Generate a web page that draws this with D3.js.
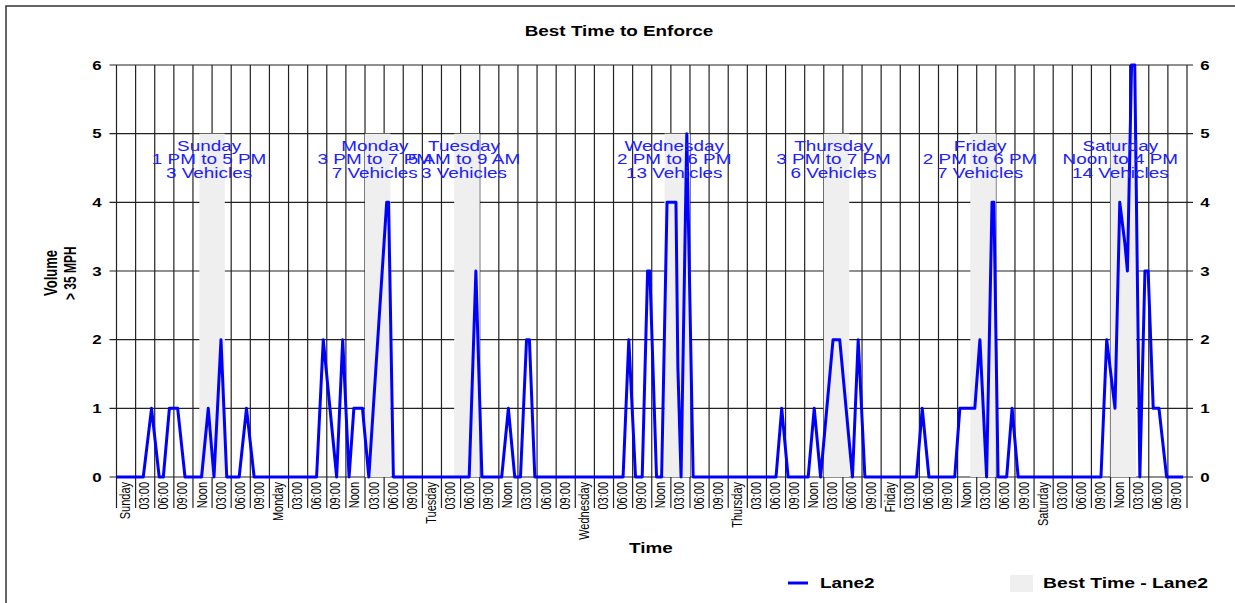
<!DOCTYPE html>
<html>
<head>
<meta charset="utf-8">
<script src="https://cdn.jsdelivr.net/npm/d3@7"></script>
<style>
  body { margin: 0; background: #fff; }
  text { font-family: "Liberation Sans", Arial, sans-serif; }
</style>
</head>
<body>
<svg id="vis" width="1235" height="603"></svg>
<script>
// data
const days = ["Sunday", "Monday", "Tuesday", "Wednesday", "Thursday", "Friday", "Saturday"]
const hourLabels = ["03:00", "06:00", "09:00", "Noon", "03:00", "06:00", "09:00"]
const yTicks = [0, 1, 2, 3, 4, 5, 6]

// Lane2 line: hours since Sunday 00:00 and volume
const lineHours = [0,
  4.2, 5.5, 6.7, 7.35, 8.3, 9.6, 10.75, 13.35, 14.4, 15.3, 16.4, 17.3, 19.25, 20.4, 21.6,
  31.4, 32.45, 34.55, 35.5, 36.5, 37.25, 38.6, 39.6, 42.4, 42.7, 43.45,
  55.35, 56.4, 57.35, 60.45, 61.5, 62.5, 63.4, 64.35, 64.8, 65.65,
  79.5, 80.4, 81.45, 82.5, 83.35, 83.7, 84.75, 85.55, 86.4, 87.8, 88.1, 88.6, 89.5, 90.5,
  103.5, 104.4, 105.4, 108.55, 109.5, 110.5, 112.45, 113.5, 115.5, 116.4, 117.45,
  125.55, 126.45, 127.5, 131.55, 132.35, 134.7, 135.5, 136.55, 137.4, 137.7, 138.35, 139.7, 140.55, 141.5,
  154.5, 155.4, 156.7, 157.45, 158.25, 158.65, 159.3, 159.8, 160.6, 161.4, 161.9, 162.7, 163.6, 164.8,
  167.4]
const lineValues = [0,
  0, 1, 0, 0, 1, 1, 0, 0, 1, 0, 2, 0, 0, 1, 0,
  0, 2, 0, 2, 0, 1, 1, 0, 4, 4, 0,
  0, 3, 0, 0, 1, 0, 0, 2, 2, 0,
  0, 2, 0, 0, 3, 3, 0, 0, 4, 4, 1.6, 0, 5, 0,
  0, 1, 0, 0, 1, 0, 2, 2, 0, 2, 0,
  0, 1, 0, 0, 1, 1, 2, 0, 4, 4, 0, 0, 1, 0,
  0, 2, 1, 4, 3.4, 3, 6, 6, 0, 3, 3, 1, 1, 0,
  0]

// best time windows (hours since Sunday 00:00)
const bestStart = [13, 39, 53, 86, 111, 134, 156]
const bestEnd = [17, 43, 57, 90, 115, 138, 160]
const bestTop = 5
const bestDays = ["Sunday", "Monday", "Tuesday", "Wednesday", "Thursday", "Friday", "Saturday"]
const bestRanges = ["1 PM to 5 PM", "3 PM to 7 PM", "5 AM to 9 AM", "2 PM to 6 PM", "3 PM to 7 PM", "2 PM to 6 PM", "Noon to 4 PM"]
const bestCounts = ["3 Vehicles", "7 Vehicles", "3 Vehicles", "13 Vehicles", "6 Vehicles", "7 Vehicles", "14 Vehicles"]

const vis = d3.select("#vis")
const stretch = 1.35 // the reference text is drawn wide

// plot area
const plotLeft = 116.5, plotRight = 1187, plotTop = 65, plotBottom = 477

const x = d3.scaleLinear().domain([0, 168]).range([plotLeft, plotRight])
const y = d3.scaleLinear().domain([0, 6]).range([plotBottom, plotTop])

// outer frame (only top and left edges are visible)
vis.append("path").attr("d", "M6,603 L6,6 L1235,6").attr("fill", "none").attr("stroke", "#333").attr("stroke-width", 1.5)

// tick labels every 3 hours
const tickHours = d3.range(0, 168, 3)
const tickText = days.flatMap(d => [d, ...hourLabels])

// vertical grid lines (continue down as long ticks)
vis.append("g").selectAll("line")
  .data(d3.range(0, 169, 3))
  .join("line")
  .attr("x1", d => x(d)).attr("x2", d => x(d))
  .attr("y1", plotTop).attr("y2", 508)
  .attr("stroke", "#222").attr("stroke-width", 1.2)

// horizontal grid lines
vis.append("g").selectAll("line")
  .data(yTicks)
  .join("line")
  .attr("x1", plotLeft - 7).attr("x2", plotRight + 6)
  .attr("y1", d => y(d)).attr("y2", d => y(d))
  .attr("stroke", "#222").attr("stroke-width", 1.2)

// best time shading
vis.append("g").selectAll("rect")
  .data(bestStart)
  .join("rect")
  .attr("x", d => x(d))
  .attr("width", (d, i) => x(bestEnd[i]) - x(d))
  .attr("y", y(bestTop))
  .attr("height", y(0) - y(bestTop))
  .attr("fill", "#efefef")

// Lane2 line
const line = d3.line().x(d => x(d[0])).y(d => y(d[1]))
vis.append("path")
  .datum(lineHours.map((h, i) => [h, lineValues[i]]))
  .attr("d", line)
  .attr("fill", "none")
  .attr("stroke", "#0000ff")
  .attr("stroke-width", 3)
  .attr("stroke-linejoin", "round")

// y tick labels, both sides
const yLab = vis.append("g").attr("font-size", 12.5).attr("font-weight", "bold").attr("text-anchor", "middle")
yTicks.forEach(v => {
  ;[97, 1205].forEach(px => {
    yLab.append("text")
      .attr("transform", `translate(${px},${y(v) + 4.5}) scale(${stretch},1)`)
      .text(v)
  })
})

// x tick labels, rotated
const xLab = vis.append("g").attr("font-size", 11).attr("text-anchor", "end")
tickHours.forEach((h, i) => {
  xLab.append("text")
    .attr("transform", `translate(${x(h + 1.5) + 4},482) scale(${stretch},1) rotate(-90)`)
    .text(tickText[i])
})

// best time annotations
const ann = vis.append("g").attr("font-size", 14).attr("fill", "#2020ff").attr("text-anchor", "middle")
bestStart.forEach((s, i) => {
  const cx = x((s + bestEnd[i]) / 2) - 3
  ;[bestDays[i], bestRanges[i], bestCounts[i]].forEach((t, j) => {
    ann.append("text")
      .attr("transform", `translate(${cx},${151 + j * 13.4}) scale(${stretch},1)`)
      .text(t)
  })
})

// titles
vis.append("text")
  .attr("transform", `translate(619,36) scale(${stretch},1)`)
  .attr("text-anchor", "middle").attr("font-weight", "bold").attr("font-size", 14)
  .text("Best Time to Enforce")

vis.append("text")
  .attr("transform", `translate(651,553) scale(${stretch},1)`)
  .attr("text-anchor", "middle").attr("font-weight", "bold").attr("font-size", 14)
  .text("Time")

vis.append("text")
  .attr("transform", `translate(57,296) scale(${stretch},1) rotate(-90)`)
  .attr("font-weight", "bold").attr("font-size", 13)
  .text("Volume")
vis.append("text")
  .attr("transform", `translate(76,300) scale(${stretch},1) rotate(-90)`)
  .attr("font-weight", "bold").attr("font-size", 12)
  .text("> 35 MPH")

// legend
vis.append("line")
  .attr("x1", 788).attr("x2", 808).attr("y1", 583).attr("y2", 583)
  .attr("stroke", "#0000ff").attr("stroke-width", 3)
vis.append("text")
  .attr("transform", `translate(820,588) scale(${stretch},1)`)
  .attr("font-weight", "bold").attr("font-size", 14)
  .text("Lane2")
vis.append("rect")
  .attr("x", 1010).attr("y", 575).attr("width", 23).attr("height", 17)
  .attr("fill", "#efefef")
vis.append("text")
  .attr("transform", `translate(1043,588) scale(1.38,1)`)
  .attr("font-weight", "bold").attr("font-size", 14)
  .text("Best Time - Lane2")
</script>
</body>
</html>
